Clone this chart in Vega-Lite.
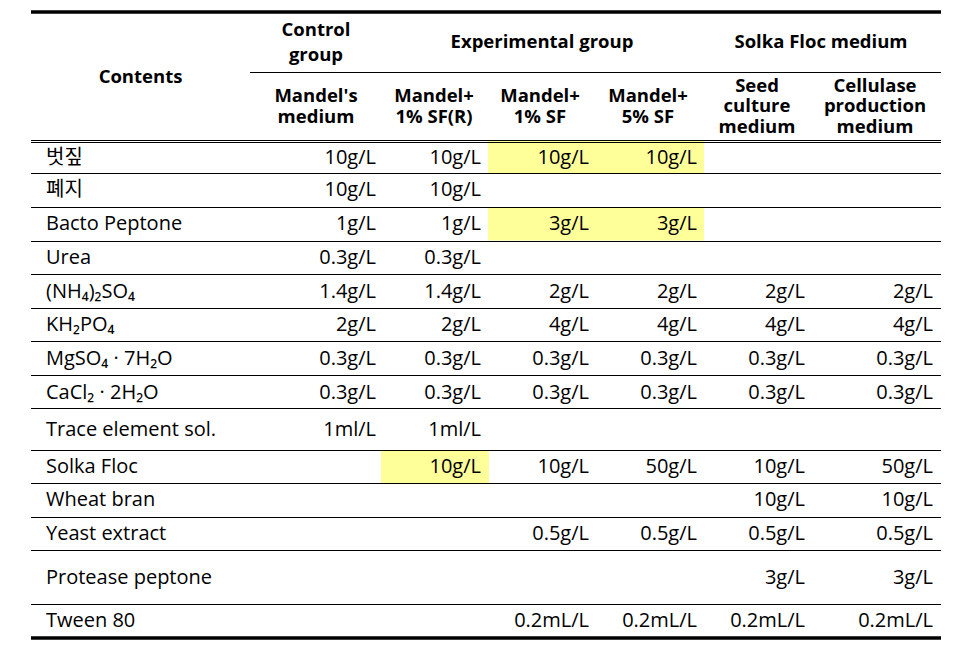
{
  "$schema": "https://vega.github.io/schema/vega-lite/v6.json",
  "width": 972,
  "height": 655,
  "autosize": {"type": "fit", "contains": "padding"},
  "padding": 0,
  "background": "white",
  "config": {"view": {"stroke": null}},
  "datasets": {
    "cells": [
      {"row": 1, "col": 1, "text": "10g/L"}, {"row": 1, "col": 2, "text": "10g/L"}, {"row": 1, "col": 3, "text": "10g/L", "hl": true}, {"row": 1, "col": 4, "text": "10g/L", "hl": true},
      {"row": 2, "col": 1, "text": "10g/L"}, {"row": 2, "col": 2, "text": "10g/L"},
      {"row": 3, "col": 1, "text": "1g/L"}, {"row": 3, "col": 2, "text": "1g/L"}, {"row": 3, "col": 3, "text": "3g/L", "hl": true}, {"row": 3, "col": 4, "text": "3g/L", "hl": true},
      {"row": 4, "col": 1, "text": "0.3g/L"}, {"row": 4, "col": 2, "text": "0.3g/L"},
      {"row": 5, "col": 1, "text": "1.4g/L"}, {"row": 5, "col": 2, "text": "1.4g/L"}, {"row": 5, "col": 3, "text": "2g/L"}, {"row": 5, "col": 4, "text": "2g/L"}, {"row": 5, "col": 5, "text": "2g/L"}, {"row": 5, "col": 6, "text": "2g/L"},
      {"row": 6, "col": 1, "text": "2g/L"}, {"row": 6, "col": 2, "text": "2g/L"}, {"row": 6, "col": 3, "text": "4g/L"}, {"row": 6, "col": 4, "text": "4g/L"}, {"row": 6, "col": 5, "text": "4g/L"}, {"row": 6, "col": 6, "text": "4g/L"},
      {"row": 7, "col": 1, "text": "0.3g/L"}, {"row": 7, "col": 2, "text": "0.3g/L"}, {"row": 7, "col": 3, "text": "0.3g/L"}, {"row": 7, "col": 4, "text": "0.3g/L"}, {"row": 7, "col": 5, "text": "0.3g/L"}, {"row": 7, "col": 6, "text": "0.3g/L"},
      {"row": 8, "col": 1, "text": "0.3g/L"}, {"row": 8, "col": 2, "text": "0.3g/L"}, {"row": 8, "col": 3, "text": "0.3g/L"}, {"row": 8, "col": 4, "text": "0.3g/L"}, {"row": 8, "col": 5, "text": "0.3g/L"}, {"row": 8, "col": 6, "text": "0.3g/L"},
      {"row": 9, "col": 1, "text": "1ml/L"}, {"row": 9, "col": 2, "text": "1ml/L"},
      {"row": 10, "col": 2, "text": "10g/L", "hl": true}, {"row": 10, "col": 3, "text": "10g/L"}, {"row": 10, "col": 4, "text": "50g/L"}, {"row": 10, "col": 5, "text": "10g/L"}, {"row": 10, "col": 6, "text": "50g/L"},
      {"row": 11, "col": 5, "text": "10g/L"}, {"row": 11, "col": 6, "text": "10g/L"},
      {"row": 12, "col": 3, "text": "0.5g/L"}, {"row": 12, "col": 4, "text": "0.5g/L"}, {"row": 12, "col": 5, "text": "0.5g/L"}, {"row": 12, "col": 6, "text": "0.5g/L"},
      {"row": 13, "col": 5, "text": "3g/L"}, {"row": 13, "col": 6, "text": "3g/L"},
      {"row": 14, "col": 3, "text": "0.2mL/L"}, {"row": 14, "col": 4, "text": "0.2mL/L"}, {"row": 14, "col": 5, "text": "0.2mL/L"}, {"row": 14, "col": 6, "text": "0.2mL/L"}
    ],
    "contents": [
      {"row": 1, "col": 0, "text": "벗짚"},
      {"row": 2, "col": 0, "text": "폐지"},
      {"row": 3, "col": 0, "text": "Bacto Peptone"},
      {"row": 4, "col": 0, "text": "Urea"},
      {"row": 5, "col": 0, "text": "(NH₄)₂SO₄"},
      {"row": 6, "col": 0, "text": "KH₂PO₄"},
      {"row": 7, "col": 0, "text": "MgSO₄ · 7H₂O"},
      {"row": 8, "col": 0, "text": "CaCl₂ · 2H₂O"},
      {"row": 9, "col": 0, "text": "Trace element sol."},
      {"row": 10, "col": 0, "text": "Solka Floc"},
      {"row": 11, "col": 0, "text": "Wheat bran"},
      {"row": 12, "col": 0, "text": "Yeast extract"},
      {"row": 13, "col": 0, "text": "Protease peptone"},
      {"row": 14, "col": 0, "text": "Tween 80"}
    ],
    "headTop": [
      {"row": 0, "col": 1, "text": "Control\ngroup"},
      {"row": 0, "col": 2, "text": "Experimental group"},
      {"row": 0, "col": 5, "text": "Solka Floc medium"}
    ],
    "headContents": [
      {"row": 0, "col": 0, "text": "Contents"}
    ],
    "headSub": [
      {"row": 1, "col": 1, "text": "Mandel's\nmedium"},
      {"row": 1, "col": 2, "text": "Mandel+\n1% SF(R)"},
      {"row": 1, "col": 3, "text": "Mandel+\n1% SF"},
      {"row": 1, "col": 4, "text": "Mandel+\n5% SF"},
      {"row": 1, "col": 5, "text": "Seed\nculture\nmedium"},
      {"row": 1, "col": 6, "text": "Cellulase\nproduction\nmedium"}
    ],
    "lines": [
      {"b": 0, "from": 0, "to": 7, "kind": "thick"},
      {"b": 1, "from": 1, "to": 7, "kind": "thin"},
      {"b": 2, "from": 0, "to": 7, "kind": "double"},
      {"b": 3, "from": 0, "to": 7, "kind": "thin"},
      {"b": 4, "from": 0, "to": 7, "kind": "thin"},
      {"b": 5, "from": 0, "to": 7, "kind": "thin"},
      {"b": 6, "from": 0, "to": 7, "kind": "thin"},
      {"b": 7, "from": 0, "to": 7, "kind": "thin"},
      {"b": 8, "from": 0, "to": 7, "kind": "thin"},
      {"b": 9, "from": 0, "to": 7, "kind": "thin"},
      {"b": 10, "from": 0, "to": 7, "kind": "thin"},
      {"b": 11, "from": 0, "to": 7, "kind": "thin"},
      {"b": 12, "from": 0, "to": 7, "kind": "thin"},
      {"b": 13, "from": 0, "to": 7, "kind": "thin"},
      {"b": 14, "from": 0, "to": 7, "kind": "thin"},
      {"b": 15, "from": 0, "to": 7, "kind": "thin"},
      {"b": 16, "from": 0, "to": 7, "kind": "thick"}
    ]
  },
  "resolve": {"scale": {"x": "independent", "y": "independent"}},
  "layer": [
    {
      "data": {"name": "cells"},
      "transform": [{"filter": "datum.hl === true"}],
      "mark": {"type": "rect", "color": "#FFFF99", "width": 108, "height": 33},
      "encoding": {
        "x": {"field": "col", "type": "quantitative", "axis": null,
              "scale": {"domain": [1, 2, 3, 4, 5, 6], "range": [316, 435, 542, 650, 757, 875.5], "nice": false, "zero": false}},
        "y": {"field": "row", "type": "quantitative", "axis": null,
              "scale": {"domain": [1, 2, 3, 4, 5, 6, 7, 8, 9, 10, 11, 12, 13, 14], "range": [157.5, 190, 224, 258, 291.5, 325, 359, 392.5, 429.5, 466.5, 500, 534, 577.5, 621], "nice": false, "zero": false}}
      }
    },
    {
      "data": {"name": "lines"},
      "transform": [{"filter": "datum.kind === 'thin'"}],
      "mark": {"type": "rule", "color": "#000000", "strokeWidth": 1},
      "encoding": {
        "x": {"field": "from", "type": "quantitative", "axis": null,
              "scale": {"domain": [0, 1, 2, 3, 4, 5, 6, 7], "range": [31, 250, 382, 488, 596, 704, 810, 941], "nice": false, "zero": false}},
        "x2": {"field": "to"},
        "y": {"field": "b", "type": "quantitative", "axis": null,
              "scale": {"domain": [0, 1, 2, 3, 4, 5, 6, 7, 8, 9, 10, 11, 12, 13, 14, 15, 16], "range": [12, 72.5, 141, 173.5, 207.5, 241.5, 274.5, 308.5, 341.5, 375.5, 408.5, 450.5, 483.5, 517.5, 550.5, 604.5, 638], "nice": false, "zero": false}}
      }
    },
    {
      "data": {"name": "lines"},
      "transform": [{"filter": "datum.kind === 'double'"}],
      "mark": {"type": "rule", "color": "#000000", "strokeWidth": 1, "yOffset": -0.5},
      "encoding": {
        "x": {"field": "from", "type": "quantitative", "axis": null,
              "scale": {"domain": [0, 1, 2, 3, 4, 5, 6, 7], "range": [31, 250, 382, 488, 596, 704, 810, 941], "nice": false, "zero": false}},
        "x2": {"field": "to"},
        "y": {"field": "b", "type": "quantitative", "axis": null,
              "scale": {"domain": [0, 1, 2, 3, 4, 5, 6, 7, 8, 9, 10, 11, 12, 13, 14, 15, 16], "range": [12, 72.5, 141, 173.5, 207.5, 241.5, 274.5, 308.5, 341.5, 375.5, 408.5, 450.5, 483.5, 517.5, 550.5, 604.5, 638], "nice": false, "zero": false}}
      }
    },
    {
      "data": {"name": "lines"},
      "transform": [{"filter": "datum.kind === 'double'"}],
      "mark": {"type": "rule", "color": "#000000", "strokeWidth": 1, "yOffset": 1.5},
      "encoding": {
        "x": {"field": "from", "type": "quantitative", "axis": null,
              "scale": {"domain": [0, 1, 2, 3, 4, 5, 6, 7], "range": [31, 250, 382, 488, 596, 704, 810, 941], "nice": false, "zero": false}},
        "x2": {"field": "to"},
        "y": {"field": "b", "type": "quantitative", "axis": null,
              "scale": {"domain": [0, 1, 2, 3, 4, 5, 6, 7, 8, 9, 10, 11, 12, 13, 14, 15, 16], "range": [12, 72.5, 141, 173.5, 207.5, 241.5, 274.5, 308.5, 341.5, 375.5, 408.5, 450.5, 483.5, 517.5, 550.5, 604.5, 638], "nice": false, "zero": false}}
      }
    },
    {
      "data": {"name": "lines"},
      "transform": [{"filter": "datum.kind === 'thick'"}],
      "mark": {"type": "rule", "color": "#000000", "strokeWidth": 3.5},
      "encoding": {
        "x": {"field": "from", "type": "quantitative", "axis": null,
              "scale": {"domain": [0, 1, 2, 3, 4, 5, 6, 7], "range": [31, 250, 382, 488, 596, 704, 810, 941], "nice": false, "zero": false}},
        "x2": {"field": "to"},
        "y": {"field": "b", "type": "quantitative", "axis": null,
              "scale": {"domain": [0, 1, 2, 3, 4, 5, 6, 7, 8, 9, 10, 11, 12, 13, 14, 15, 16], "range": [12, 72.5, 141, 173.5, 207.5, 241.5, 274.5, 308.5, 341.5, 375.5, 408.5, 450.5, 483.5, 517.5, 550.5, 604.5, 638], "nice": false, "zero": false}}
      }
    },
    {
      "data": {"name": "cells"},
      "mark": {"type": "text", "align": "right", "baseline": "middle", "font": "Open Sans, DejaVu Sans, Noto Sans CJK KR", "fontSize": 20, "color": "#000000"},
      "encoding": {
        "x": {"field": "col", "type": "quantitative", "axis": null,
              "scale": {"domain": [1, 2, 3, 4, 5, 6], "range": [376, 481, 589, 697, 805, 933], "nice": false, "zero": false}},
        "y": {"field": "row", "type": "quantitative", "axis": null,
              "scale": {"domain": [1, 2, 3, 4, 5, 6, 7, 8, 9, 10, 11, 12, 13, 14], "range": [157.5, 190, 224, 258, 291.5, 325, 359, 392.5, 429.5, 466.5, 500, 534, 577.5, 621], "nice": false, "zero": false}},
        "text": {"field": "text", "type": "nominal"}
      }
    },
    {
      "data": {"name": "contents"},
      "mark": {"type": "text", "align": "left", "baseline": "middle", "font": "Open Sans, DejaVu Sans, Noto Sans CJK KR", "fontSize": 20, "color": "#000000"},
      "encoding": {
        "x": {"field": "col", "type": "quantitative", "axis": null,
              "scale": {"domain": [0, 1], "range": [46, 47], "nice": false, "zero": false}},
        "y": {"field": "row", "type": "quantitative", "axis": null,
              "scale": {"domain": [1, 2, 3, 4, 5, 6, 7, 8, 9, 10, 11, 12, 13, 14], "range": [157.5, 190, 224, 258, 291.5, 325, 359, 392.5, 429.5, 466.5, 500, 534, 577.5, 621], "nice": false, "zero": false}},
        "text": {"field": "text", "type": "nominal"}
      }
    },
    {
      "data": {"name": "headTop"},
      "transform": [{"filter": "datum.col === 1"}],
      "mark": {"type": "text", "align": "center", "baseline": "middle", "lineBreak": "\n", "lineHeight": 25, "yOffset": -12.5, "font": "Open Sans, DejaVu Sans, Noto Sans CJK KR", "fontSize": 18.5, "fontWeight": "bold", "color": "#000000"},
      "encoding": {
        "x": {"field": "col", "type": "quantitative", "axis": null,
              "scale": {"domain": [1, 2, 5], "range": [316, 542, 821], "nice": false, "zero": false}},
        "y": {"field": "row", "type": "quantitative", "axis": null,
              "scale": {"domain": [0, 1], "range": [42, 106.5], "nice": false, "zero": false}},
        "text": {"field": "text", "type": "nominal"}
      }
    },
    {
      "data": {"name": "headTop"},
      "transform": [{"filter": "datum.col !== 1"}],
      "mark": {"type": "text", "align": "center", "baseline": "middle", "font": "Open Sans, DejaVu Sans, Noto Sans CJK KR", "fontSize": 18.5, "fontWeight": "bold", "color": "#000000"},
      "encoding": {
        "x": {"field": "col", "type": "quantitative", "axis": null,
              "scale": {"domain": [1, 2, 5], "range": [316, 542, 821], "nice": false, "zero": false}},
        "y": {"field": "row", "type": "quantitative", "axis": null,
              "scale": {"domain": [0, 1], "range": [42, 106.5], "nice": false, "zero": false}},
        "text": {"field": "text", "type": "nominal"}
      }
    },
    {
      "data": {"name": "headContents"},
      "mark": {"type": "text", "align": "center", "baseline": "middle", "font": "Open Sans, DejaVu Sans, Noto Sans CJK KR", "fontSize": 18.5, "fontWeight": "bold", "color": "#000000"},
      "encoding": {
        "x": {"field": "col", "type": "quantitative", "axis": null,
              "scale": {"domain": [0, 1], "range": [140.5, 141.5], "nice": false, "zero": false}},
        "y": {"field": "row", "type": "quantitative", "axis": null,
              "scale": {"domain": [0, 1], "range": [76.5, 77.5], "nice": false, "zero": false}},
        "text": {"field": "text", "type": "nominal"}
      }
    },
    {
      "data": {"name": "headSub"},
      "transform": [{"filter": "datum.col <= 4"}],
      "mark": {"type": "text", "align": "center", "baseline": "middle", "lineBreak": "\n", "lineHeight": 20.7, "yOffset": -10.35, "font": "Open Sans, DejaVu Sans, Noto Sans CJK KR", "fontSize": 18.5, "fontWeight": "bold", "color": "#000000"},
      "encoding": {
        "x": {"field": "col", "type": "quantitative", "axis": null,
              "scale": {"domain": [1, 2, 3, 4, 5, 6], "range": [316, 434, 540, 648, 757, 875], "nice": false, "zero": false}},
        "y": {"field": "row", "type": "quantitative", "axis": null,
              "scale": {"domain": [0, 1], "range": [42, 106.5], "nice": false, "zero": false}},
        "text": {"field": "text", "type": "nominal"}
      }
    },
    {
      "data": {"name": "headSub"},
      "transform": [{"filter": "datum.col >= 5"}],
      "mark": {"type": "text", "align": "center", "baseline": "middle", "lineBreak": "\n", "lineHeight": 20.7, "yOffset": -20.7, "font": "Open Sans, DejaVu Sans, Noto Sans CJK KR", "fontSize": 18.5, "fontWeight": "bold", "color": "#000000"},
      "encoding": {
        "x": {"field": "col", "type": "quantitative", "axis": null,
              "scale": {"domain": [1, 2, 3, 4, 5, 6], "range": [316, 434, 540, 648, 757, 875], "nice": false, "zero": false}},
        "y": {"field": "row", "type": "quantitative", "axis": null,
              "scale": {"domain": [0, 1], "range": [42, 106.5], "nice": false, "zero": false}},
        "text": {"field": "text", "type": "nominal"}
      }
    }
  ]
}
